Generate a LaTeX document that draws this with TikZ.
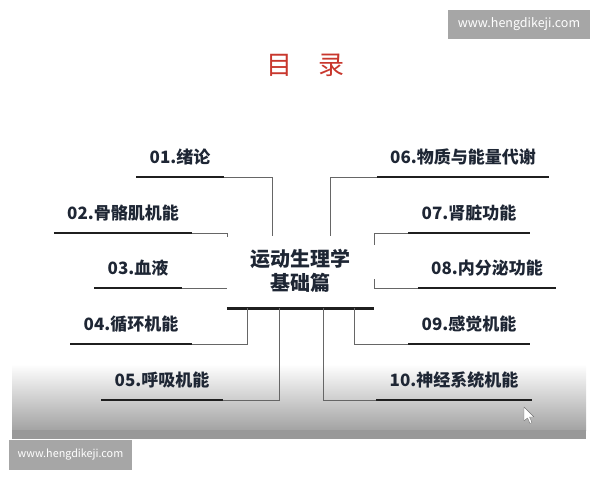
\documentclass[tikz,border=0pt]{standalone}
\usepackage{fontspec}
\setmainfont{Noto Sans CJK SC}
\usetikzlibrary{positioning}

\definecolor{ink}{HTML}{1E2634}
\definecolor{titlered}{HTML}{C8372D}
\definecolor{wmgray}{HTML}{A6A6A6}

\tikzset{
  item/.style={anchor=south,inner xsep=13pt,inner ysep=10pt,text height=13.5pt,text depth=3pt,
    font=\bfseries\fontsize{17}{17}\selectfont,text=ink},
  core/.style={align=center,minimum width=147pt,minimum height=74pt,inner sep=0pt,
    font=\bfseries\fontsize{20}{24}\selectfont,text=ink},
  uline/.style={line width=2.6pt,black!88},
  link/.style={line width=0.8pt,black!60},
  wmark/.style={fill=wmgray,text=white,inner sep=0pt}
}

\begin{document}
\begin{tikzpicture}[x=1pt,y=-1pt]
      \useasboundingbox (0,0) rectangle (600,480);

      % slide bottom
      \shade[top color=white,bottom color=black!36] (12,364) rectangle (586,430);
      \fill[black!40] (12,430) rectangle (586,439);

      \node[text=titlered,font=\fontsize{26}{26}\selectfont] (title) at (305,65) {目\hspace{26pt}录};

      \node[core] (core) at (300.5,271) {运动生理学\\基础篇};
      \draw[uline] (core.south west) -- (core.south east);

      \node[item] (t1) at (180,177) {01.绪论};
      \node[item] (t2) at (123,233) {02.骨骼肌机能};
      \node[item] (t3) at (138,288) {03.血液};
      \node[item] (t4) at (131,344) {04.循环机能};
      \node[item] (t5) at (162,400) {05.呼吸机能};

      \node[item] (t6) at (463,177) {06.物质与能量代谢};
      \node[item] (t7) at (469,233) {07.肾脏功能};
      \node[item] (t8) at (487,288) {08.内分泌功能};
      \node[item] (t9) at (469,344) {09.感觉机能};
      \node[item] (t10) at (454,400) {10.神经系统机能};

      \draw[uline] (t1.south west) -- (t1.south east);
      \draw[uline] (t2.south west) -- (t2.south east);
      \draw[uline] (t3.south west) -- (t3.south east);
      \draw[uline] (t4.south west) -- (t4.south east);
      \draw[uline] (t5.south west) -- (t5.south east);
      \draw[uline] (t6.south west) -- (t6.south east);
      \draw[uline] (t7.south west) -- (t7.south east);
      \draw[uline] (t8.south west) -- (t8.south east);
      \draw[uline] (t9.south west) -- (t9.south east);
      \draw[uline] (t10.south west) -- (t10.south east);

      \coordinate (j1) at (272,236);
      \coordinate (j2) at (227,237);
      \coordinate (j3) at (227,288);
      \coordinate (j4) at (247,308);
      \coordinate (j5) at (279,308);
      \coordinate (j6) at (330,236);
      \coordinate (j7) at (374,245);
      \coordinate (j8) at (374,279);
      \coordinate (j9) at (354,308);
      \coordinate (j10) at (323,308);

      \draw[link] (t1.south east) -| (j1);
      \draw[link] (t2.south east) -| (j2);
      \draw[link] (t3.south east) -- (j3);
      \draw[link] (t4.south east) -| (j4);
      \draw[link] (t5.south east) -| (j5);
      \draw[link] (t6.south west) -| (j6);
      \draw[link] (t7.south west) -| (j7);
      \draw[link] (t8.south west) -| (j8);
      \draw[link] (t9.south west) -| (j9);
      \draw[link] (t10.south west) -| (j10);

      % pointer
      \draw[black!55,fill=white,line join=round] (524,407) -- (524,421) -- (527.5,418) -- (530,423.5)
        -- (532,422.5) -- (529.5,417) -- (534,417) -- cycle;

      \node[wmark,minimum width=142pt,minimum height=29pt,font=\fontsize{12.5}{12.5}\selectfont] (wm1) at (519,24.5) {www.hengdikeji.com};
      \node[wmark,minimum width=123pt,minimum height=30pt,font=\fontsize{10.8}{10.8}\selectfont] (wm2) at (70.5,455) {www.hengdikeji.com};
\end{tikzpicture}
\end{document}
